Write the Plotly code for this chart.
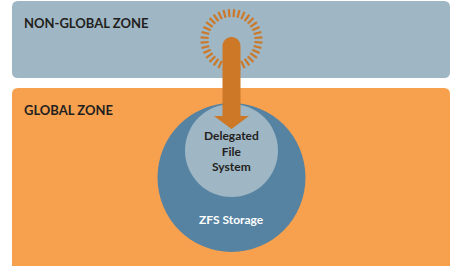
import numpy as np
import plotly.graph_objects as go

W, H = 451, 266

zone_labels = ["NON-GLOBAL ZONE", "GLOBAL ZONE"]
fs_lines = ["Delegated", "File", "System"]
storage_label = "ZFS Storage"

C_TOP = "#9fb6c4"
C_BOT = "#f7a14f"
C_BIG = "#5683a2"
C_SMALL = "#9fb6c4"
C_ARROW = "#cc7826"
C_TEXT = "#231f20"
FONT = "Lato, Open Sans, sans-serif"


def rrect(x0, y0, x1, y1, r):
    return (f"M {x0+r},{y0} L {x1-r},{y0} Q {x1},{y0} {x1},{y0+r} "
            f"L {x1},{y1-r} Q {x1},{y1} {x1-r},{y1} L {x0+r},{y1} "
            f"Q {x0},{y1} {x0},{y1-r} L {x0},{y0+r} Q {x0},{y0} {x0+r},{y0} Z")


shapes = []
shapes.append(dict(type="path", path=rrect(12, 88, 450, 272, 6), fillcolor=C_BOT, line=dict(width=0)))
shapes.append(dict(type="path", path=rrect(12, 1, 450, 78, 6), fillcolor=C_TOP, line=dict(width=0)))
cx = 231.5
shapes.append(dict(type="circle", x0=cx-74, x1=cx+74, y0=103, y1=252, fillcolor=C_BIG, line=dict(width=0)))
shapes.append(dict(type="circle", x0=cx-46.5, x1=cx+46.5, y0=104, y1=197, fillcolor=C_SMALL, line=dict(width=0)))

rcx, rcy = 231.5, 40
n = 36
for k in range(n):
    a = 2 * np.pi * k / n + np.pi / n
    shapes.append(dict(type="line",
                       x0=rcx + 23 * np.cos(a), y0=rcy + 23 * np.sin(a),
                       x1=rcx + 31 * np.cos(a), y1=rcy + 31 * np.sin(a),
                       line=dict(color=C_ARROW, width=2.2)))

sx0, sx1 = 222.5, 240.5
sr = (sx1 - sx0) / 2
top_c = 37 + sr
angs = np.linspace(np.pi, 2 * np.pi, 16)
arc = " ".join(f"L {cx + sr*np.cos(t):.2f},{top_c + sr*np.sin(t):.2f}" for t in angs)
arrow_path = (f"M {sx0},116 L {sx0},{top_c} {arc} L {sx1},116 "
              f"L 249,116 L {cx},129 L 214,116 Z")
shapes.append(dict(type="path", path=arrow_path, fillcolor=C_ARROW, line=dict(width=0)))

annotations = [
    dict(x=22, y=22.5, text=f"<b>{zone_labels[0]}</b>", xanchor="left", yanchor="middle",
         font=dict(size=13, color=C_TEXT, family=FONT)),
    dict(x=22, y=110, text=f"<b>{zone_labels[1]}</b>", xanchor="left", yanchor="middle",
         font=dict(size=13, color=C_TEXT, family=FONT)),
    dict(x=cx, y=219, text=f"<b>{storage_label}</b>", xanchor="center", yanchor="middle",
         font=dict(size=12, color="white", family=FONT)),
    dict(x=cx, y=151, text="<br>".join(f"<b>{t}</b>" for t in fs_lines),
         xanchor="center", yanchor="middle", align="center",
         font=dict(size=12, color=C_TEXT, family=FONT)),
]
for a in annotations:
    a.update(xref="x", yref="y", showarrow=False)

fig = go.Figure()
fig.update_layout(
    width=W, height=H, autosize=False,
    margin=dict(l=0, r=0, t=0, b=0),
    paper_bgcolor="white", plot_bgcolor="white",
    xaxis=dict(range=[0, W], visible=False, fixedrange=True),
    yaxis=dict(range=[H, 0], visible=False, fixedrange=True),
    shapes=shapes, annotations=annotations,
    font=dict(family=FONT),
    showlegend=False,
)
fig.write_html("out.html", config={"displayModeBar": False},
               post_script="document.body.style.margin='0';document.body.style.overflow='hidden';")
